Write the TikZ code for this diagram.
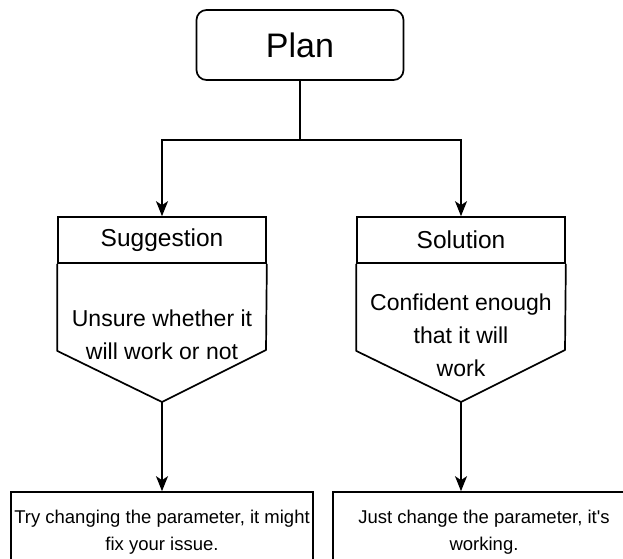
\documentclass[tikz,border=0pt]{standalone}
\usepackage{fontspec}
\setmainfont{Liberation Sans}
\usetikzlibrary{arrows.meta, positioning}

\begin{document}
\begin{tikzpicture} [x=1pt, y=-1pt, align=center, line width=1.7pt,
  arr/.style={-{Stealth[length=15pt, width=12pt, inset=4pt]}},
  head/.style={draw, minimum width=208pt, minimum height=46pt, inner sep=0pt, font=\fontsize{24.5}{29}\selectfont},
  note/.style={inner sep=0pt, font=\fontsize{23}{33}\selectfont},
  result/.style={draw, minimum width=302pt, minimum height=80pt, inner sep=0pt, font=\fontsize{18.5}{27}\selectfont}]
\useasboundingbox (0,0) rectangle (623,558);
\clip (0,0) rectangle (623,558);

\path (300,45) node[draw, rounded corners=10pt, minimum width=207pt, minimum height=70pt, font=\fontsize{34}{40}\selectfont] (plan) {Plan}
      (300,140) coordinate (split)
      (162,240) node[head] (sugg) {Suggestion}
      (461,240) node[head] (solu) {Solution}
      (162,335) node[note] (suggtext) {Unsure whether it\\will work or not}
      (461,335) node[note] (solutext) {Confident enough\\that it will\\work}
      (162,532) node[result] (try) {Try changing the parameter, it might\\fix your issue.}
      (484,532) node[result] (just) {Just change the parameter, it\textquotesingle s\\working.};

% pentagon bodies under the headers
\draw[line join=round] (sugg.south west) -- ++(0,87) -- (162,402) coordinate (suggtip) -- (266,350) -- (sugg.south east);
\draw[line join=round] (solu.south west) -- ++(0,87) -- (461,402) coordinate (solutip) -- (565,350) -- (solu.south east);

\draw[arr] (plan.south) -- (split) -| (sugg.north);
\draw[arr] (split) -| (solu.north);
\draw[arr] (suggtip) -- (suggtip |- try.north);
\draw[arr] (solutip) -- (solutip |- just.north);
\end{tikzpicture}
\end{document}
